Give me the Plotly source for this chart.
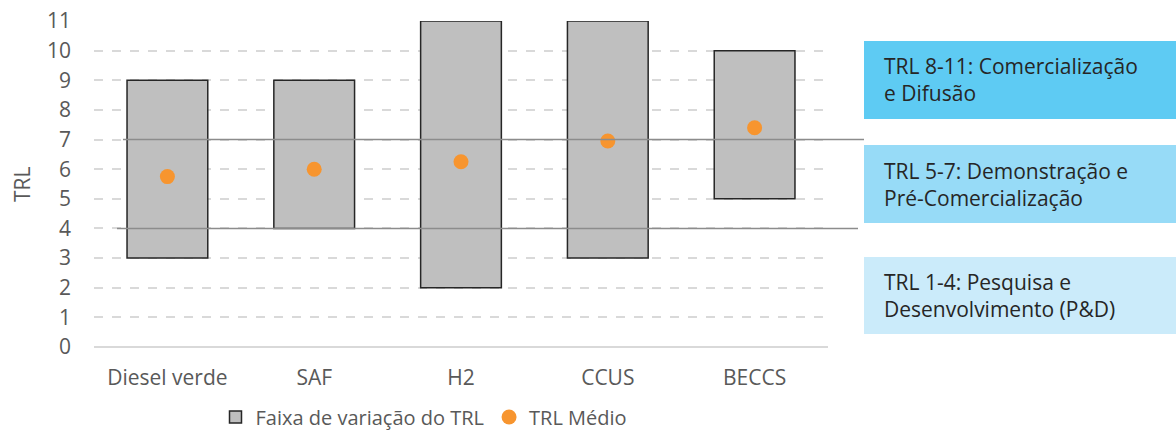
import plotly.graph_objects as go

# Technologies and their TRL ranges
categories = ["Diesel verde", "SAF", "H2", "CCUS", "BECCS"]
trl_min = [3, 4, 2, 3, 5]
trl_max = [9, 9, 11, 11, 10]
trl_mean = [5.75, 6.0, 6.25, 6.95, 7.4]

# Maturity bands shown on the right
band_labels = [
    "TRL 8-11: Comercialização<br>e Difusão",
    "TRL 5-7: Demonstração e<br>Pré-Comercialização",
    "TRL 1-4: Pesquisa e<br>Desenvolvimento (P&D)",
]
band_colors = ["#5ECBF3", "#97DBF7", "#CBEBFA"]
band_limits = [7, 4]

W, H = 1176, 433
FONT = "Open Sans"
GRAY_TXT = "#595959"

def px_x(p):
    return p / W

def px_y(p):
    return (H - p) / H

fig = go.Figure()

fig.add_trace(go.Bar(
    x=categories,
    y=[hi - lo for lo, hi in zip(trl_min, trl_max)],
    base=trl_min,
    name="Faixa de variação do TRL",
    marker=dict(color="#BFBFBF", line=dict(color="#262626", width=1.5)),
    width=0.55,
    hoverinfo="skip",
))

fig.add_trace(go.Scatter(
    x=categories,
    y=trl_mean,
    mode="markers",
    name="TRL Médio",
    marker=dict(color="#F7952F", size=15),
))

# Band boundary lines across the plot
line_extent = {7: (123, 864), 4: (117, 858)}
for v in band_limits:
    x0, x1 = line_extent[v]
    fig.add_shape(type="line", xref="paper", yref="y",
                  x0=px_x(x0), x1=px_x(x1), y0=v, y1=v,
                  line=dict(color="#8C8C8C", width=1.5), layer="above")

# Band boxes with labels
box_px = [(41, 119), (145, 223), (257, 334)]
for (top, bot), col, lab in zip(box_px, band_colors, band_labels):
    fig.add_shape(type="rect", xref="paper", yref="paper",
                  x0=px_x(864), x1=1.0, y0=px_y(bot), y1=px_y(top),
                  fillcolor=col, line=dict(width=0), layer="below")
    fig.add_annotation(xref="paper", yref="paper",
                       x=px_x(882), y=px_y((top + bot) / 2),
                       xanchor="left", yanchor="middle", align="left",
                       text=lab, showarrow=False,
                       font=dict(family=FONT, size=21, color="#262626"))

fig.add_annotation(xref="paper", yref="paper", x=px_x(22), y=px_y(184),
                   text="TRL", textangle=-90, showarrow=False,
                   xanchor="center", yanchor="middle",
                   font=dict(family=FONT, size=21, color=GRAY_TXT))

fig.update_layout(
    width=W, height=H,
    margin=dict(l=0, r=0, t=0, b=0, autoexpand=False),
    paper_bgcolor="white", plot_bgcolor="white",
    font=dict(family=FONT, size=21, color=GRAY_TXT),
    showlegend=True,
    legend=dict(orientation="h", x=px_x(424), xanchor="center",
                y=px_y(417), yanchor="middle",
                font=dict(family=FONT, size=20, color=GRAY_TXT),
                itemwidth=30, tracegroupgap=0),
    xaxis=dict(domain=[px_x(94), px_x(828)], showgrid=False,
               showline=False, ticks="", automargin=False,
               ticklabelstandoff=16,
               tickfont=dict(family=FONT, size=21, color=GRAY_TXT)),
    yaxis=dict(domain=[px_y(347), px_y(21)], range=[0, 11],
               tickmode="linear", tick0=0, dtick=1,
               showgrid=True, gridcolor="#D9D9D9", griddash="dash",
               gridwidth=1.5,
               zeroline=True, zerolinecolor="#D9D9D9", zerolinewidth=1.5,
               showline=False, ticks="", automargin=False,
               ticklabelstandoff=22,
               tickfont=dict(family=FONT, size=21, color=GRAY_TXT)),
)

fig.write_html("out.html")
